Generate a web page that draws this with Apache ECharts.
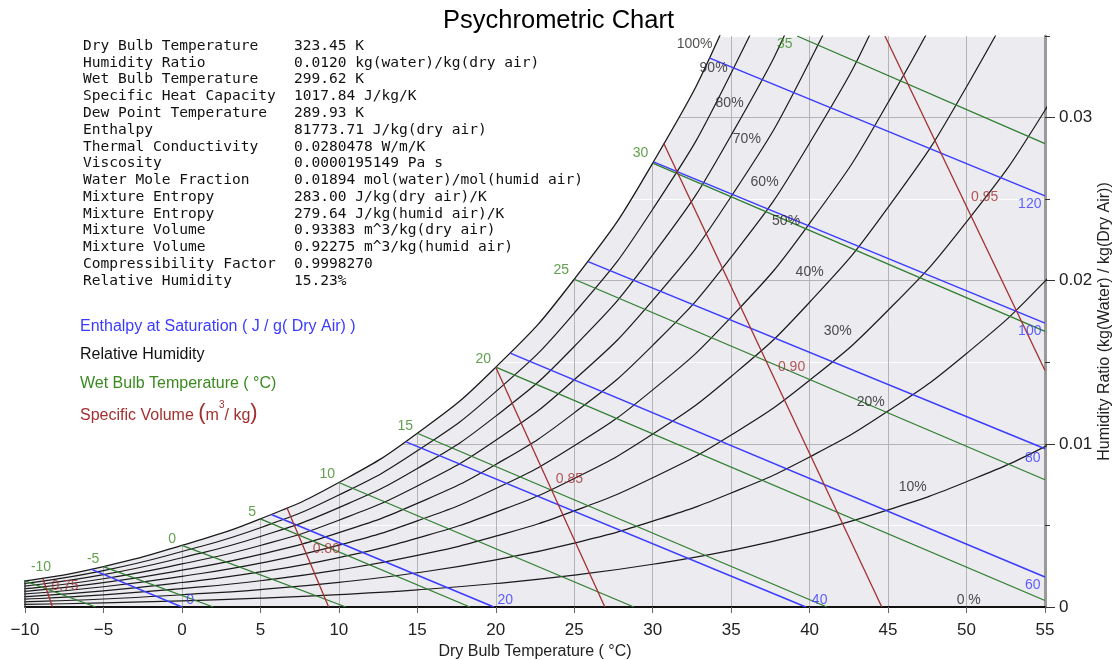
<!DOCTYPE html>
<html><head><meta charset="utf-8">
<script src="https://cdn.jsdelivr.net/npm/echarts@6/dist/echarts.min.js"></script>
<style>html,body{margin:0;padding:0;background:#fff}#c{width:1117px;height:660px}</style>
</head><body><div id="c"></div>
<script>
// ---------- data ----------
const temps = [-15, -10, -5, 0, 5, 10, 15, 20, 25, 30, 35, 40, 45, 50, 55, 60];
// humidity ratio (kg/kg) of each relative-humidity curve at the temps above
const rh100 = [0.00102, 0.00160, 0.00248, 0.00378, 0.00540, 0.00763, 0.01065, 0.01470, 0.02009, 0.02721, 0.03658, 0.04890];
const rh90  = [0.00092, 0.00144, 0.00223, 0.00340, 0.00486, 0.00686, 0.00957, 0.01320, 0.01802, 0.02438, 0.03273, 0.04366, 0.05795];
const rh80  = [0.00081, 0.00128, 0.00198, 0.00302, 0.00432, 0.00609, 0.00849, 0.01170, 0.01597, 0.02158, 0.02892, 0.03851, 0.05098];
const rh70  = [0.00071, 0.00112, 0.00173, 0.00264, 0.00377, 0.00532, 0.00742, 0.01022, 0.01393, 0.01880, 0.02516, 0.03344, 0.04416, 0.05803];
const rh60  = [0.00061, 0.00096, 0.00149, 0.00226, 0.00323, 0.00456, 0.00635, 0.00874, 0.01190, 0.01604, 0.02144, 0.02844, 0.03747, 0.04909];
const rh50  = [0.00051, 0.00080, 0.00124, 0.00188, 0.00269, 0.00379, 0.00528, 0.00726, 0.00988, 0.01331, 0.01777, 0.02352, 0.03092, 0.04037, 0.05246];
const rh40  = [0.00041, 0.00064, 0.00099, 0.00150, 0.00215, 0.00303, 0.00422, 0.00580, 0.00788, 0.01060, 0.01413, 0.01868, 0.02449, 0.03189, 0.04127, 0.05316];
const rh30  = [0.00031, 0.00048, 0.00074, 0.00113, 0.00161, 0.00227, 0.00316, 0.00434, 0.00589, 0.00792, 0.01054, 0.01390, 0.01819, 0.02361, 0.03045, 0.03904];
const rh20  = [0.00020, 0.00032, 0.00049, 0.00075, 0.00107, 0.00151, 0.00210, 0.00289, 0.00392, 0.00526, 0.00699, 0.00920, 0.01201, 0.01554, 0.01997, 0.02549];
const rh10  = [0.00010, 0.00016, 0.00025, 0.00038, 0.00054, 0.00076, 0.00105, 0.00144, 0.00195, 0.00262, 0.00347, 0.00457, 0.00595, 0.00768, 0.00983, 0.01249];
const rhCurves = [rh90, rh80, rh70, rh60, rh50, rh40, rh30, rh20, rh10];

// enthalpy lines (kJ/kg): [dry bulb, humidity ratio] at both ends
const enthalpyLevels = [0, 20, 40, 60, 80, 100, 120];
const enthalpyStart = [[-5.79, 0.00232], [5.7, 0.00567], [14.25, 0.01014], [20.92, 0.01556], [25.88, 0.02117], [30.05, 0.02729], [33.6, 0.03366]];
const enthalpyEnd   = [[0, 0], [19.88, 0], [39.76, 0], [55, 0.00184], [55, 0.0097], [55, 0.0174], [55, 0.0252]];

// wet bulb lines (°C)
const wetBulbLevels = [-10, -5, 0, 5, 10, 15, 20, 25, 30, 35];
const wetBulbStart = [[-10, 0.0016], [-5, 0.00248], [0, 0.00378], [5, 0.0054], [10, 0.00763], [15, 0.01065], [20, 0.0147], [25, 0.02009], [30, 0.02721], [39.2, 0.035]];
const wetBulbEnd   = [[-5.5, 0], [2.0, 0], [10.45, 0], [18.35, 0], [28.8, 0], [41.1, 0], [55, 0.0004], [55, 0.0078], [55, 0.0169], [55, 0.0284]];

// specific volume lines (m3/kg)
const volumeLevels = ['0.75', '0.80', '0.85', '0.90', '0.95'];
const volumeStart = [[-8.85, 0.00172], [6.7, 0.00607], [20.0, 0.0147], [30.7, 0.02843], [44.8, 0.035]];
const volumeEnd   = [[-8.25, 0], [9.35, 0], [26.95, 0], [44.6, 0], [55, 0.0145]];

// state-point property table
const propNames = ['Dry Bulb Temperature', 'Humidity Ratio', 'Wet Bulb Temperature', 'Specific Heat Capacity',
  'Dew Point Temperature', 'Enthalpy', 'Thermal Conductivity', 'Viscosity', 'Water Mole Fraction',
  'Mixture Entropy', 'Mixture Entropy', 'Mixture Volume', 'Mixture Volume', 'Compressibility Factor', 'Relative Humidity'];
const propValues = ['323.45 K', '0.0120 kg(water)/kg(dry air)', '299.62 K', '1017.84 J/kg/K', '289.93 K',
  '81773.71 J/kg(dry air)', '0.0280478 W/m/K', '0.0000195149 Pa s', '0.01894 mol(water)/mol(humid air)',
  '283.00 J/kg(dry air)/K', '279.64 J/kg(humid air)/K', '0.93383 m^3/kg(dry air)', '0.92275 m^3/kg(humid air)',
  '0.9998270', '15.23%'];

const xTicks = [-10, -5, 0, 5, 10, 15, 20, 25, 30, 35, 40, 45, 50, 55];
const yTickLabels = [0, 0.01, 0.02, 0.03];

// label anchor placements (layout only)
const rhLabelText = ['100%', '90%', '80%', '70%', '60%', '50%', '40%', '30%', '20%', '10%', '0 %'];
const rhLabelAt = [[32.67, 0.03448], [33.88, 0.0330], [34.9, 0.03086], [36.0, 0.02865], [37.13, 0.02607], [38.5, 0.02368], [40.0, 0.02055], [41.79, 0.01693], [43.89, 0.01258], [46.57, 0.00736], [50.14, 0.00043]];
const wbLabelAt = [[-8.98, 0.00245], [-5.66, 0.00294], [-0.63, 0.00417], [4.48, 0.00583], [9.26, 0.00816], [14.23, 0.0111], [19.21, 0.01521], [24.18, 0.02067], [29.22, 0.02779], [38.41, 0.03448]];
const enLabelAt = [[0.52, 0.00043], [20.61, 0.00043], [40.64, 0.00043], [54.22, 0.00135], [54.22, 0.00914], [54.03, 0.01693], [54.03, 0.02472]];
const volLabelAt = [[-7.45, 0.00129], [9.2, 0.00356], [24.69, 0.00785], [38.85, 0.01472], [51.16, 0.02515]];

// ---------- chart ----------
const BLUE = '#3b3bff', GREEN = '#2f7d2f', RED = '#a33030', BLACK = '#1a1a1a';
const GREEN_TXT = '#3a8a20';
const FONT = 'Liberation Sans';

function curve(arr) { const d = []; arr.forEach((v, i) => { if (v != null) d.push([temps[i], v]); }); return d; }

const series = [];
// saturation curve with white fill above it
series.push({ type: 'line', data: curve(rh100), smooth: true, symbol: 'none', z: 3,
  lineStyle: { color: BLACK, width: 1.3 }, areaStyle: { color: '#ffffff', opacity: 1, origin: 'end' } });
rhCurves.forEach(arr => series.push({ type: 'line', data: curve(arr), smooth: true, symbol: 'none', z: 4,
  lineStyle: { color: BLACK, width: 1.2 } }));
// left boundary at -10
series.push({ type: 'line', data: [[xTicks[0], 0], [xTicks[0], rh100[1]]], symbol: 'none', z: 4, lineStyle: { color: '#444', width: 1.5 } });
enthalpyLevels.forEach((h, i) => series.push({ type: 'line', data: [enthalpyStart[i], enthalpyEnd[i]], symbol: 'none', z: 5,
  lineStyle: { color: BLUE, width: 1.4 } }));
wetBulbLevels.forEach((t, i) => series.push({ type: 'line', data: [wetBulbStart[i], wetBulbEnd[i]], symbol: 'none', z: 5,
  lineStyle: { color: GREEN, width: 1.3 } }));
volumeLevels.forEach((v, i) => series.push({ type: 'line', data: [volumeStart[i], volumeEnd[i]], symbol: 'none', z: 5,
  lineStyle: { color: RED, width: 1.3 } }));

function labelSeries(texts, pos, color) {
  return { type: 'scatter', symbolSize: 1, z: 6, itemStyle: { color: 'rgba(0,0,0,0)' }, silent: true,
    data: texts.map((t, i) => ({ name: String(t), value: pos[i] })),
    label: { show: true, position: 'inside', formatter: '{b}', color: color, fontSize: 14, fontFamily: FONT } };
}
series.push(labelSeries(rhLabelText, rhLabelAt, '#222'));
series.push(labelSeries(wetBulbLevels, wbLabelAt, GREEN_TXT));
series.push(labelSeries(enthalpyLevels, enLabelAt, BLUE));
series.push(labelSeries(volumeLevels, volLabelAt, RED));

const lh = 16.79;
const option = {
  animation: false,
  backgroundColor: '#ffffff',
  title: { text: 'Psychrometric Chart', left: 'center', top: 3,
    textStyle: { fontSize: 25.5, fontWeight: 'normal', color: '#000', fontFamily: FONT } },
  grid: { left: 25, right: 72, top: 36, bottom: 53, show: true, backgroundColor: '#ebebf0', borderWidth: 0,
    containLabel: false, outerBoundsMode: 'none' },
  xAxis: { type: 'value', min: xTicks[0], max: xTicks[xTicks.length - 1], interval: 5,
    name: 'Dry Bulb Temperature ( °C)', nameLocation: 'middle', nameGap: 29,
    nameTextStyle: { fontSize: 16, color: '#222', fontFamily: FONT },
    axisLine: { show: true, onZero: false, lineStyle: { color: '#111', width: 2 } },
    axisTick: { show: true, length: 6, lineStyle: { color: '#666' } },
    axisLabel: { fontSize: 17, color: '#222', margin: 15, fontFamily: FONT,
      formatter: v => (v < 0 ? '\u2212' + Math.abs(v) : String(v)) },
    splitLine: { show: true, lineStyle: { color: '#b4b4b4', width: 1 } } },
  yAxis: [
    { type: 'value', position: 'right', min: 0, max: 0.035, interval: 0.005,
      name: 'Humidity Ratio (kg(Water) / kg(Dry Air))', nameLocation: 'middle', nameRotate: 90, nameGap: 52,
      nameTextStyle: { fontSize: 16, color: '#222', fontFamily: FONT },
      axisLine: { show: true, onZero: false, lineStyle: { color: '#9a9a9a', width: 3 } },
      axisTick: { show: true, length: 5, lineStyle: { color: '#333' } },
      axisLabel: { show: false },
      splitLine: { show: true, lineStyle: { color: ['#b4b4b4', '#ffffff'], width: 1 } } },
    { type: 'value', position: 'right', min: 0, max: 0.035, interval: 0.01,
      axisLine: { show: true, onZero: false, lineStyle: { color: 'rgba(0,0,0,0)', width: 0 } },
      axisTick: { show: true, length: 10, customValues: yTickLabels, lineStyle: { color: '#333' } },
      axisLabel: { show: true, customValues: yTickLabels, fontSize: 17, color: '#222', margin: 14, fontFamily: FONT,
        formatter: v => (v === 0 ? '0' : v.toFixed(2)) },
      splitLine: { show: false } }
  ],
  graphic: [
    { type: 'text', left: 83, top: 46 - lh / 2, z: 10, style: { text: propNames.join('\n'), fontFamily: 'DejaVu Sans Mono', fontSize: 14.55, lineHeight: lh, fill: '#111' } },
    { type: 'text', left: 294, top: 46 - lh / 2, z: 10, style: { text: propValues.join('\n'), fontFamily: 'DejaVu Sans Mono', fontSize: 14.55, lineHeight: lh, fill: '#111' } },
    { type: 'text', left: 80, top: 319, z: 10, style: { text: 'Enthalpy at Saturation ( J / g( Dry Air) )', fontFamily: FONT, fontSize: 16, fill: BLUE } },
    { type: 'text', left: 80, top: 347, z: 10, style: { text: 'Relative Humidity', fontFamily: FONT, fontSize: 16, fill: '#111' } },
    { type: 'text', left: 80, top: 376, z: 10, style: { text: 'Wet Bulb Temperature ( °C)', fontFamily: FONT, fontSize: 16, fill: GREEN_TXT } },
    { type: 'text', left: 80, top: 400, z: 10, style: { text: '{t|Specific Volume }{p|(}{t|m}{s|3}{t|/ kg}{p|)}', fill: RED,
      rich: { t: { fontFamily: FONT, fontSize: 16, fill: RED, verticalAlign: 'bottom', lineHeight: 24 },
              p: { fontFamily: FONT, fontSize: 22, fill: RED, verticalAlign: 'bottom', lineHeight: 24 },
              s: { fontFamily: FONT, fontSize: 10, fill: RED, verticalAlign: 'top', lineHeight: 24 } } } }
  ],
  series: series
};
const chart = echarts.init(document.getElementById('c'), null, { renderer: 'canvas' });
chart.setOption(option);
</script></body></html>
